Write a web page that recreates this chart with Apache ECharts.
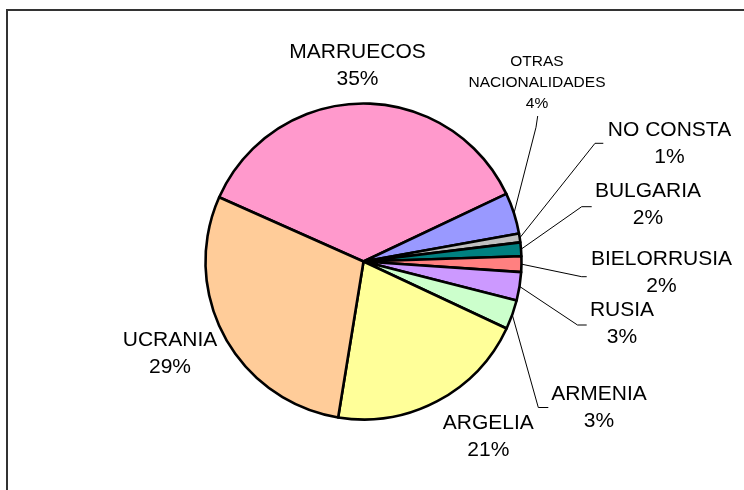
<!DOCTYPE html>
<html>
<head>
<meta charset="utf-8">
<script src="https://cdn.jsdelivr.net/npm/echarts@6/dist/echarts.min.js"></script>
<style>
html,body{margin:0;padding:0;background:#fff;}
#chart{width:744px;height:490px;}
</style>
</head>
<body>
<div id="chart"></div>
<script>
// Data (order clockwise from the Marruecos slice)
var categories = ['MARRUECOS', 'OTRAS\nNACIONALIDADES', 'NO CONSTA', 'BULGARIA', 'BIELORRUSIA', 'RUSIA', 'ARMENIA', 'ARGELIA', 'UCRANIA'];
var shares = [36.3, 4.2, 0.9, 1.4, 1.6, 2.9, 3.0, 20.6, 29.1];
var percentLabels = ['35%', '4%', '1%', '2%', '2%', '3%', '3%', '21%', '29%'];
var colors = ['#FF99CC', '#9999FF', '#C0C0C0', '#008080', '#FF8080', '#CC99FF', '#CCFFCC', '#FFFF99', '#FFCC99'];

// Label placement (style)
var labelCenters = [[357.5, 66], [537, 83], [669.5, 144], [648, 205], [661.5, 272.5], [622, 324], [599, 407.5], [488.3, 437], [170, 354]];
var leaderEnds = [null, [[536, 127.3], [537.7, 116]], [[595, 143.3], [603.3, 143.3]], [[581.7, 206.7], [591.7, 206.7]], [[581.7, 276.7], [586.7, 276.7]], [[577.5, 325], [586.7, 325]], [[538.3, 407.5], [548.3, 407.5]], null, null];

var chart = echarts.init(document.getElementById('chart'), null, {renderer: 'canvas'});

var data = categories.map(function (c, i) {
  var item = {
    name: c,
    value: shares[i],
    itemStyle: {color: colors[i]},
    labelLine: {show: !!leaderEnds[i]}
  };
  if (i === 1) {
    item.label = {fontSize: 15.5, lineHeight: 21};
  }
  return item;
});

chart.setOption({
  animation: false,
  backgroundColor: '#ffffff',
  graphic: [{
    type: 'rect',
    shape: {x: 7, y: 10, width: 900, height: 700},
    style: {fill: 'none', stroke: '#333333', lineWidth: 2},
    silent: true
  }],
  series: [{
    type: 'pie',
    center: [363.5, 261.5],
    radius: 158,
    startAngle: 156,
    clockwise: true,
    avoidLabelOverlap: false,
    emphasis: {disabled: true},
    itemStyle: {borderColor: '#000000', borderWidth: 2.6},
    label: {
      show: true,
      position: 'outside',
      color: '#000000',
      fontFamily: 'Liberation Sans, Arial, sans-serif',
      fontSize: 21,
      lineHeight: 27,
      align: 'center',
      formatter: function (p) {
        return categories[p.dataIndex] + '\n' + percentLabels[p.dataIndex];
      }
    },
    labelLine: {
      show: true,
      length: 20,
      length2: 10,
      lineStyle: {color: '#000000', width: 1}
    },
    labelLayout: function (params) {
      var i = params.dataIndex;
      var res = {
        x: labelCenters[i][0],
        y: labelCenters[i][1],
        align: 'center',
        verticalAlign: 'middle'
      };
      if (leaderEnds[i] && params.labelLinePoints) {
        var start = params.labelLinePoints[0];
        res.labelLinePoints = [start, leaderEnds[i][0], leaderEnds[i][1]];
      }
      return res;
    },
    data: data
  }]
});
</script>
</body>
</html>
